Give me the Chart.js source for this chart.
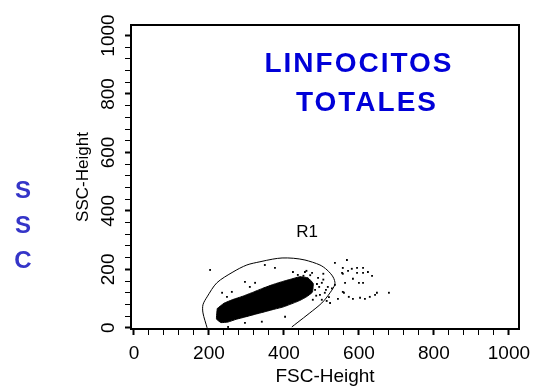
<!DOCTYPE html>
<html>
<head>
<meta charset="utf-8">
<script src="https://cdn.jsdelivr.net/npm/chart.js@4.4.1/dist/chart.umd.min.js"></script>
<style>
body { margin: 0; background: white; }
</style>
</head>
<body>
<canvas id="myChart" width="533" height="388"></canvas>
<script>
// R1 gate outline (FSC, SSC), open at the bottom where it meets the axis
const gateFsc = [195, 184, 184, 195, 221, 264, 301, 336, 370, 395, 425, 456, 496, 515, 531, 536, 523, 501, 469, 435, 421];
const gateSsc = [0, 51, 79, 106, 154, 191, 215, 226, 235, 239, 238, 232, 215, 198, 174, 150, 120, 85, 51, 17, 3];

// dense core of the lymphocyte cloud (outline, closed)
const coreFsc = [222, 240, 262, 290, 318, 341, 368, 395, 420, 443, 464, 478, 476, 460, 443, 420, 397, 372, 349, 322, 296, 272, 251, 232, 220, 222];
const coreSsc = [66, 84, 96, 108, 122, 134, 147, 158, 167, 175, 171, 152, 122, 106, 94, 82, 71, 63, 55, 46, 37, 29, 20, 18, 30, 66];

// scattered events around the core
const dotFsc = [536, 568, 557, 571, 581, 595, 611, 624, 635, 557, 595, 611, 584, 600, 611, 563, 536, 560, 573, 584, 603, 616, 629, 643, 648, 680, 544, 523,
    203, 349, 376, 424, 437, 456, 235, 248, 261, 275, 251, 296, 309, 323, 475, 491, 501, 483, 496, 509, 517, 477, 501, 251, 296, 341, 403, 555, 557,
    488, 494, 505, 512, 520, 486, 470, 460, 452, 505, 528, 514];
const dotSsc = [222, 232, 205, 195, 202, 205, 205, 191, 178, 185, 188, 188, 168, 154, 154, 154, 147, 120, 106, 99, 103, 99, 106, 113, 120, 120, 99, 85,
    198, 215, 205, 191, 181, 191, 120, 106, 123, 96, 85, 157, 140, 154, 188, 171, 154, 130, 113, 120, 140, 96, 96, 3, 17, 21, 38, 188, 123,
    150, 140, 165, 130, 105, 110, 180, 195, 178, 185, 135, 92];

const tickLabels = [0, 200, 400, 600, 800, 1000];
const minorStep = 40;

function toPoints(xs, ys) {
    return xs.map((v, i) => ({x: v, y: ys[i]}));
}

var minorTicks = [];
for (let v = 0; v <= 1000; v += minorStep) {
    minorTicks.push({value: v});
}

const fontFamily = '"Liberation Sans", Arial, sans-serif';

// frame edges + texts that sit inside/around the plot
const extras = {
    id: 'extras',
    afterDraw(chart) {
        const {ctx, chartArea: a} = chart;
        ctx.save();
        ctx.strokeStyle = 'black';
        ctx.lineWidth = 2;
        ctx.beginPath();
        ctx.moveTo(a.left, a.top);
        ctx.lineTo(a.right, a.top);
        ctx.lineTo(a.right, a.bottom);
        ctx.stroke();

        ctx.textAlign = 'center';
        ctx.textBaseline = 'alphabetic';
        ctx.fillStyle = '#0000d8';
        ctx.font = 'bold 28px ' + fontFamily;
        ctx.letterSpacing = '2px';
        ctx.fillText('LINFOCITOS', 359, 72);
        ctx.fillText('TOTALES', 367, 111);

        ctx.fillStyle = '#3535c8';
        ctx.font = 'bold 24px ' + fontFamily;
        ctx.letterSpacing = '0px';
        ctx.fillText('S', 23, 198);
        ctx.fillText('S', 23, 233);
        ctx.fillText('C', 23, 268);

        ctx.fillStyle = 'black';
        ctx.font = '17px ' + fontFamily;
        ctx.fillText('R1', 307, 237);
        ctx.restore();
    }
};

const ctx = document.getElementById('myChart');
const myChart = new Chart(ctx, {
    type: 'scatter',
    data: {
        datasets: [
            {
                type: 'line',
                data: toPoints(gateFsc, gateSsc),
                borderColor: 'black',
                borderWidth: 1,
                pointRadius: 0,
                tension: 0.3,
                fill: false,
            },
            {
                type: 'line',
                data: toPoints(coreFsc, coreSsc),
                borderColor: 'black',
                backgroundColor: 'black',
                borderWidth: 1,
                pointRadius: 0,
                tension: 0.1,
                fill: 'shape',
            },
            {
                data: toPoints(dotFsc, dotSsc),
                pointStyle: 'rect',
                pointRadius: 1.3,
                backgroundColor: 'black',
                borderWidth: 0,
            },
        ]
    },
    options: {
        responsive: false,
        animation: false,
        devicePixelRatio: 1,
        layout: { padding: { left: 71, top: 25, right: 14, bottom: 0 } },
        plugins: {
            legend: { display: false },
            tooltip: { enabled: false },
        },
        scales: {
            x: {
                type: 'linear',
                min: -8,
                max: 1027,
                afterBuildTicks: s => { s.ticks = minorTicks.map(t => ({value: t.value})); },
                afterFit: s => { s.height = 59; s.paddingLeft = 0; s.paddingRight = 0; },
                ticks: {
                    autoSkip: false,
                    maxRotation: 0,
                    color: 'black',
                    padding: 7,
                    font: { size: 19, family: fontFamily },
                    callback: v => tickLabels.includes(v) ? v : '',
                },
                grid: {
                    drawOnChartArea: false,
                    tickLength: 6,
                    tickColor: 'black',
                    tickWidth: c => (c.tick && tickLabels.includes(c.tick.value)) ? 2 : 1,
                },
                border: { color: 'black', width: 2 },
                title: {
                    display: true,
                    text: 'FSC-Height',
                    color: 'black',
                    padding: 0,
                    font: { size: 19, family: fontFamily },
                },
            },
            y: {
                type: 'linear',
                min: -4,
                max: 1036,
                afterBuildTicks: s => { s.ticks = minorTicks.map(t => ({value: t.value})); },
                afterFit: s => { s.width = 60; s.paddingTop = 0; s.paddingBottom = 0; },
                ticks: {
                    autoSkip: false,
                    minRotation: 90,
                    maxRotation: 90,
                    crossAlign: 'center',
                    color: 'black',
                    padding: -5,
                    font: { size: 19, family: fontFamily },
                    callback: v => tickLabels.includes(v) ? v : '',
                },
                grid: {
                    drawOnChartArea: false,
                    tickLength: 6,
                    tickColor: 'black',
                    tickWidth: c => (c.tick && tickLabels.includes(c.tick.value)) ? 2 : 1,
                },
                border: { color: 'black', width: 2 },
                title: {
                    display: true,
                    text: 'SSC-Height',
                    color: 'black',
                    padding: { top: 2, bottom: 0 },
                    font: { size: 17, family: fontFamily },
                },
            },
        }
    },
    plugins: [extras]
});
</script>
</body>
</html>
